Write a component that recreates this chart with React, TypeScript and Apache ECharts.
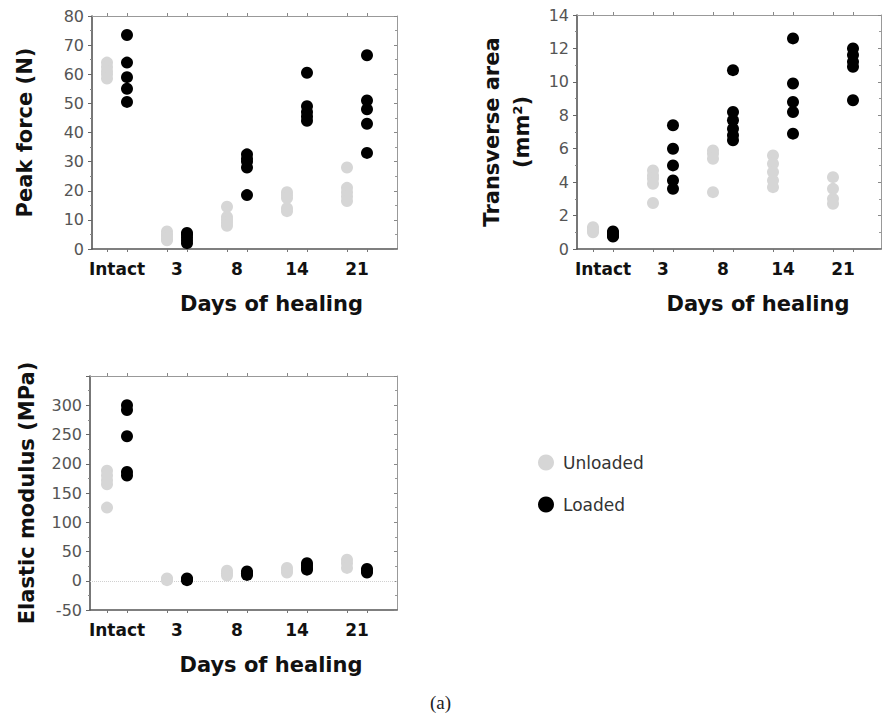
import React, { useEffect, useRef } from "react";
import * as echarts from "echarts";

// Healing time points (x groups)
const groups = ["Intact", "3", "8", "14", "21"];

// Peak force (N), one list of specimens per time point
const peakUnloaded = [
  [64, 62.5, 61, 60, 58.5],
  [6, 5, 4.5, 3.5, 3],
  [14.5, 11, 10, 9, 8],
  [19.5, 18.5, 17.5, 14, 13],
  [28, 21, 19.5, 18, 16.5],
];
const peakLoaded = [
  [73.5, 64, 59, 55, 50.5],
  [5.5, 5, 4, 3, 2],
  [32.5, 31, 30, 28, 18.5],
  [60.5, 49, 47, 45.5, 44],
  [66.5, 51, 48, 43, 33],
];

// Transverse area (mm²)
const areaUnloaded = [
  [1.3, 1.2, 1.1, 1.0],
  [4.7, 4.4, 4.2, 3.9, 2.75],
  [5.9, 5.7, 5.4, 3.4],
  [5.6, 5.1, 4.6, 4.1, 3.7],
  [4.3, 3.6, 3.0, 2.7],
];
const areaLoaded = [
  [1.05, 0.95, 0.9, 0.8, 0.75],
  [7.4, 6.0, 5.0, 4.1, 3.6],
  [10.7, 8.2, 7.7, 7.2, 6.8, 6.5],
  [12.6, 9.9, 8.8, 8.2, 6.9],
  [12.0, 11.6, 11.2, 10.9, 8.9],
];

// Elastic modulus (MPa)
const modulusUnloaded = [
  [188, 180, 172, 165, 125],
  [4, 2, 1],
  [17, 13, 9],
  [22, 18, 14],
  [36, 30, 22],
];
const modulusLoaded = [
  [300, 292, 247, 186, 180],
  [4, 2, 1],
  [16, 13, 10],
  [30, 26, 22, 19],
  [20, 17, 14],
];

const FONT = "DejaVu Sans";
const GRAY = "#d6d6d6";
const BLACK = "#000000";

// Unloaded specimens sit at 3*i, loaded at 3*i + 1 on the x scale
const tickPositions = groups.flatMap((_, i) => [3 * i, 3 * i + 1]);
const labelPositions = groups.map((_, i) => 3 * i + 0.5);

const toPoints = (lists: number[][], offset: number) =>
  lists.flatMap((vals, i) => vals.map((v) => [3 * i + offset, v]));

type PanelSpec = {
  grid: { left: number; top: number; width: number; height: number };
  xMin: number;
  xMax: number;
  yMin: number;
  yMax: number;
  yInterval: number;
  yName: string;
  yNameGap: number;
  xNameShift: number;
  hideTop?: number;
};

const panels: PanelSpec[] = [
  {
    grid: { left: 92, top: 16, width: 305, height: 233 },
    xMin: -0.75,
    xMax: 14.5,
    yMin: 0,
    yMax: 80,
    yInterval: 10,
    yName: "Peak force (N)",
    yNameGap: 52,
    xNameShift: 54,
  },
  {
    grid: { left: 577, top: 15, width: 304, height: 234 },
    xMin: -0.8,
    xMax: 14.4,
    yMin: 0,
    yMax: 14,
    yInterval: 2,
    yName: "Transverse area\n(mm²)",
    yNameGap: 40,
    xNameShift: 58,
  },
  {
    grid: { left: 90, top: 376, width: 307, height: 234 },
    xMin: -0.85,
    xMax: 14.5,
    yMin: -50,
    yMax: 350,
    yInterval: 50,
    yName: "Elastic modulus (MPa)",
    yNameGap: 48,
    xNameShift: 55,
    hideTop: 350,
  },
];

const seriesData = [
  [peakUnloaded, peakLoaded],
  [areaUnloaded, areaLoaded],
  [modulusUnloaded, modulusLoaded],
];

export default function App() {
  const ref = useRef<HTMLDivElement>(null);

  useEffect(() => {
    if (!ref.current) return;
    const chart = echarts.init(ref.current, undefined, { renderer: "svg" });

    const grids: any[] = [];
    const xAxes: any[] = [];
    const yAxes: any[] = [];
    const series: any[] = [];

    panels.forEach((p, gi) => {
      grids.push({ ...p.grid, containLabel: false });

      // bottom axis: category labels between each unloaded/loaded pair
      xAxes.push({
        type: "value",
        gridIndex: gi,
        position: "bottom",
        min: p.xMin,
        max: p.xMax,
        name: "Days of healing",
        nameLocation: "middle",
        nameGap: 44,
        nameTextStyle: {
          fontFamily: FONT,
          fontWeight: "bold",
          fontSize: 21,
          color: "#111",
          padding: [0, 0, 0, p.xNameShift],
        },
        axisLine: { show: true, onZero: false, lineStyle: { color: "#555", width: 1.6 } },
        axisTick: {
          show: true,
          inside: false,
          length: 3,
          customValues: tickPositions,
          lineStyle: { color: "#777" },
        },
        axisLabel: {
          show: true,
          customValues: labelPositions,
          formatter: (v: number) => groups[Math.round((v - 0.5) / 3)] ?? "",
          fontFamily: FONT,
          fontWeight: "bold",
          fontSize: 17,
          color: "#111",
          margin: 11,
        },
        splitLine: { show: false },
      });

      // top frame edge
      xAxes.push({
        type: "value",
        gridIndex: gi,
        position: "top",
        min: p.xMin,
        max: p.xMax,
        axisLine: { show: true, onZero: false, lineStyle: { color: "#999", width: 1 } },
        axisTick: {
          show: true,
          inside: false,
          length: 3,
          customValues: tickPositions,
          lineStyle: { color: "#888" },
        },
        axisLabel: { show: false },
        splitLine: { show: false },
      });

      yAxes.push({
        type: "value",
        gridIndex: gi,
        position: "left",
        min: p.yMin,
        max: p.yMax,
        interval: p.yInterval,
        name: p.yName,
        nameLocation: "middle",
        nameGap: p.yNameGap,
        nameTextStyle: {
          fontFamily: FONT,
          fontWeight: "bold",
          fontSize: 21,
          color: "#111",
          lineHeight: 30,
        },
        axisLine: { show: true, onZero: false, lineStyle: { color: "#555", width: 1.6 } },
        axisTick: { show: true, inside: false, length: 4, lineStyle: { color: "#666" } },
        minorTick: { show: true, splitNumber: 2, length: 2, lineStyle: { color: "#888" } },
        axisLabel: {
          fontFamily: FONT,
          fontSize: 16,
          color: "#555",
          margin: 8,
          formatter: (v: number) => (p.hideTop !== undefined && v === p.hideTop ? "" : String(v)),
        },
        splitLine: { show: false },
      });

      // right frame edge
      yAxes.push({
        type: "value",
        gridIndex: gi,
        position: "right",
        min: p.yMin,
        max: p.yMax,
        interval: p.yInterval,
        axisLine: { show: true, onZero: false, lineStyle: { color: "#999", width: 1 } },
        axisTick: { show: true, inside: true, length: 3, lineStyle: { color: "#888" } },
        minorTick: { show: true, splitNumber: 2, length: 2, lineStyle: { color: "#999" } },
        axisLabel: { show: false },
        splitLine: { show: false },
      });

      const [unloaded, loaded] = seriesData[gi];
      series.push({
        name: "Unloaded",
        type: "scatter",
        xAxisIndex: gi * 2,
        yAxisIndex: gi * 2,
        symbol: "circle",
        symbolSize: 12,
        itemStyle: { color: GRAY, opacity: 1 },
        data: toPoints(unloaded, 0),
        z: 2,
      });
      const loadedSeries: any = {
        name: "Loaded",
        type: "scatter",
        xAxisIndex: gi * 2,
        yAxisIndex: gi * 2,
        symbol: "circle",
        symbolSize: 12,
        itemStyle: { color: BLACK, opacity: 1 },
        data: toPoints(loaded, 1),
        z: 3,
      };
      if (p.yMin < 0) {
        loadedSeries.markLine = {
          silent: true,
          symbol: "none",
          label: { show: false },
          lineStyle: { type: "dotted", color: "#d0d0d0", width: 1 },
          data: [{ yAxis: 0 }],
          z: 1,
        };
      }
      series.push(loadedSeries);
    });

    chart.setOption({
      animation: false,
      backgroundColor: "#ffffff",
      grid: grids,
      xAxis: xAxes,
      yAxis: yAxes,
      series,
      legend: {
        data: ["Unloaded", "Loaded"],
        orient: "vertical",
        left: 533,
        top: 449,
        icon: "circle",
        itemWidth: 16,
        itemHeight: 16,
        itemGap: 25,
        itemStyle: { opacity: 1 },
        textStyle: {
          fontFamily: FONT,
          fontSize: 17,
          color: "#333",
          lineHeight: 16,
          padding: [0, 0, 0, 4],
        },
      },
      graphic: [
        {
          type: "text",
          left: 430,
          top: 693,
          style: {
            text: "(a)",
            fontFamily: "Liberation Serif",
            fontSize: 19,
            fill: "#222",
          },
        },
      ],
    });

    return () => chart.dispose();
  }, []);

  return (
    <div
      ref={ref}
      style={{ position: "absolute", left: 0, top: 0, width: 883, height: 719, background: "#fff" }}
    />
  );
}
